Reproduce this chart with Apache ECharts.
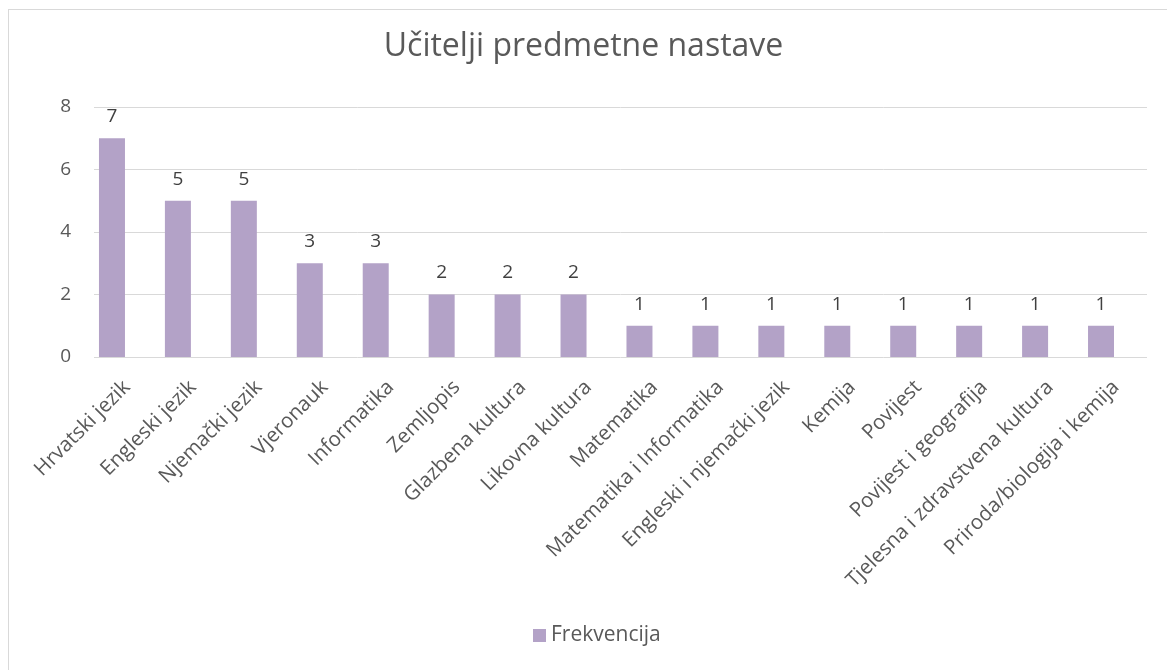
<!DOCTYPE html>
<html>
<head>
<meta charset="utf-8">
<script src="https://cdn.jsdelivr.net/npm/echarts@6/dist/echarts.min.js"></script>
<style>
  html, body { margin: 0; padding: 0; background: #fff; }
  #frame {
    position: absolute; left: 8px; top: 9px; width: 1170px; height: 670px;
    border-left: 1px solid #d9d9d9; border-top: 1px solid #d9d9d9;
  }
  #chart { position: absolute; left: 0; top: 0; width: 1167px; height: 670px; }
</style>
</head>
<body>
<div id="frame"></div>
<div id="chart"></div>
<script>
// kategorije i frekvencije
const subjects = [
  'Hrvatski jezik', 'Engleski jezik', 'Njemački jezik', 'Vjeronauk', 'Informatika',
  'Zemljopis', 'Glazbena kultura', 'Likovna kultura', 'Matematika',
  'Matematika i Informatika', 'Engleski i njemački jezik', 'Kemija', 'Povijest',
  'Povijest i geografija', 'Tjelesna i zdravstvena kultura', 'Priroda/biologija i kemija'
]
const frequencies = [7, 5, 5, 3, 3, 2, 2, 2, 1, 1, 1, 1, 1, 1, 1, 1]
const seriesName = 'Frekvencija'

const font = '"Open Sans", sans-serif'
const textColor = '#595959'

const chart = echarts.init(document.getElementById('chart'))
const option = {
  animation: false,
  textStyle: { fontFamily: font },
  title: {
    text: 'Učitelji predmetne nastave',
    left: 'center',
    top: 26,
    textStyle: { fontSize: 32, fontWeight: 'normal', color: textColor, fontFamily: font }
  },
  legend: {
    bottom: 19,
    left: 528,
    icon: 'rect',
    itemWidth: 13,
    itemHeight: 13,
    itemGap: 6,
    textStyle: { fontSize: 21, color: textColor, fontFamily: font },
    data: [seriesName]
  },
  grid: [
    // mreža za stupce
    { left: 79, right: 33, top: 107, bottom: 313 },
    // mreža za crte rešetke
    { left: 94, right: 20, top: 107, bottom: 313 },
    // mreža za natpise kategorija
    { left: 94, right: 18, top: 107, bottom: 313 }
  ],
  xAxis: [
    {
      type: 'category',
      gridIndex: 0,
      data: subjects,
      axisLine: { show: false },
      axisTick: { show: false },
      axisLabel: { show: false }
    },
    {
      type: 'category',
      gridIndex: 1,
      data: subjects,
      show: false
    },
    {
      type: 'category',
      gridIndex: 2,
      data: subjects,
      axisLine: { show: false },
      axisTick: { show: false },
      axisLabel: {
        interval: 0,
        rotate: 45,
        fontSize: 20.5,
        color: textColor,
        margin: 27,
        fontFamily: font
      }
    }
  ],
  yAxis: [
    {
      type: 'value',
      gridIndex: 0,
      min: 0,
      max: 8,
      interval: 2,
      axisLabel: { show: false },
      axisLine: { show: false },
      axisTick: { show: false },
      splitLine: { show: false }
    },
    {
      type: 'value',
      gridIndex: 1,
      min: 0,
      max: 8,
      interval: 2,
      axisLine: { show: false },
      axisTick: { show: false },
      axisLabel: { fontSize: 19, color: textColor, margin: 23, fontFamily: font },
      splitLine: { lineStyle: { color: '#d9d9d9', width: 1 } }
    },
    {
      type: 'value',
      gridIndex: 2,
      min: 0,
      max: 8,
      interval: 2,
      show: false
    }
  ],
  series: [
    {
      name: seriesName,
      type: 'bar',
      xAxisIndex: 0,
      yAxisIndex: 0,
      barWidth: 26,
      data: frequencies,
      itemStyle: { color: '#b3a2c7' },
      label: {
        show: true,
        position: 'top',
        distance: 12,
        fontSize: 19,
        color: '#404040',
        fontFamily: font
      }
    }
  ]
}
chart.setOption(option)
</script>
</body>
</html>
